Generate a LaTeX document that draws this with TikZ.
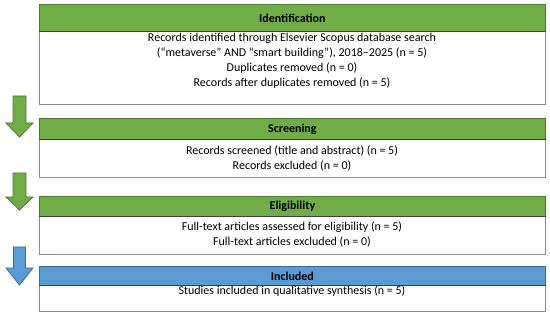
\documentclass[tikz,border=0pt]{standalone}
\usepackage{fontspec}
\setmainfont{Carlito}
\definecolor{hgreen}{HTML}{70AD47}
\definecolor{hgreenD}{HTML}{507E32}
\definecolor{hblue}{HTML}{5B9BD5}
\definecolor{hblueD}{HTML}{41719C}
\definecolor{bgray}{HTML}{8C8C8C}
\begin{document}
\begin{tikzpicture}[x=1pt,y=-1pt,
  hdr/.style={draw=#1!70!black, fill=#1, line width=0.8pt, minimum width=506pt, anchor=north west, inner sep=0pt, font=\fontsize{12}{15}\selectfont\bfseries},
  bodybox/.style={draw=bgray, fill=white, line width=0.8pt, minimum width=506pt, anchor=north west, inner sep=0pt},
  btext/.style={align=center, inner sep=0pt, font=\fontsize{12}{15}\selectfont},
  sep/.style={draw=black!75, line width=1pt},
  barrow/.style={fill=#1, draw=#1!70!black, line width=0.8pt, line join=miter}
]
\useasboundingbox (0,0) rectangle (550,318);
% Identification
\node[bodybox, minimum height=73pt] (idb) at (39,31) {};
\node[hdr=hgreen, minimum height=27pt] (idh) at (39,4) {Identification};
\draw[sep] (idh.south west) -- (idh.south east);
\node[btext] (idt) at (292,60.5) {Records identified through Elsevier Scopus database search\\(“metaverse” AND “smart building”), 2018–2025 (n = 5)\\Duplicates removed (n = 0)\\Records after duplicates removed (n = 5)};
% Screening
\node[bodybox, minimum height=38pt] (scb) at (39,139) {};
\node[hdr=hgreen, minimum height=21pt] (sch) at (39,118) {Screening};
\draw[sep] (sch.south west) -- (sch.south east);
\node[btext] (sct) at (292,158) {Records screened (title and abstract) (n = 5)\\Records excluded (n = 0)};
% Eligibility
\node[bodybox, minimum height=38pt] (elb) at (39,216) {};
\node[hdr=hgreen, minimum height=20pt] (elh) at (39,196) {Eligibility};
\draw[sep] (elh.south west) -- (elh.south east);
\node[btext] (elt) at (292,234.5) {Full-text articles assessed for eligibility (n = 5)\\Full-text articles excluded (n = 0)};
% Included
\node[bodybox, minimum height=26pt] (inb) at (39,285) {};
\node[hdr=hblue, minimum height=19pt] (inh) at (39,266) {Included};
\draw[sep] (inh.south west) -- (inh.south east);
\node[btext] (intx) at (292,291) {Studies included in qualitative synthesis (n = 5)};
% Block arrows
\draw[barrow=hgreen] (13,96) -- (26,96) -- (26,123) -- (33,123) -- (19.5,137) -- (6,123) -- (13,123) -- cycle;
\draw[barrow=hgreen] (13,173) -- (26,173) -- (26,197) -- (33,197) -- (19.5,210) -- (6,197) -- (13,197) -- cycle;
\draw[barrow=hblue] (13.5,247) -- (25.5,247) -- (25.5,268) -- (33,268) -- (19.5,285) -- (6,268) -- (13.5,268) -- cycle;
\end{tikzpicture}
\end{document}
